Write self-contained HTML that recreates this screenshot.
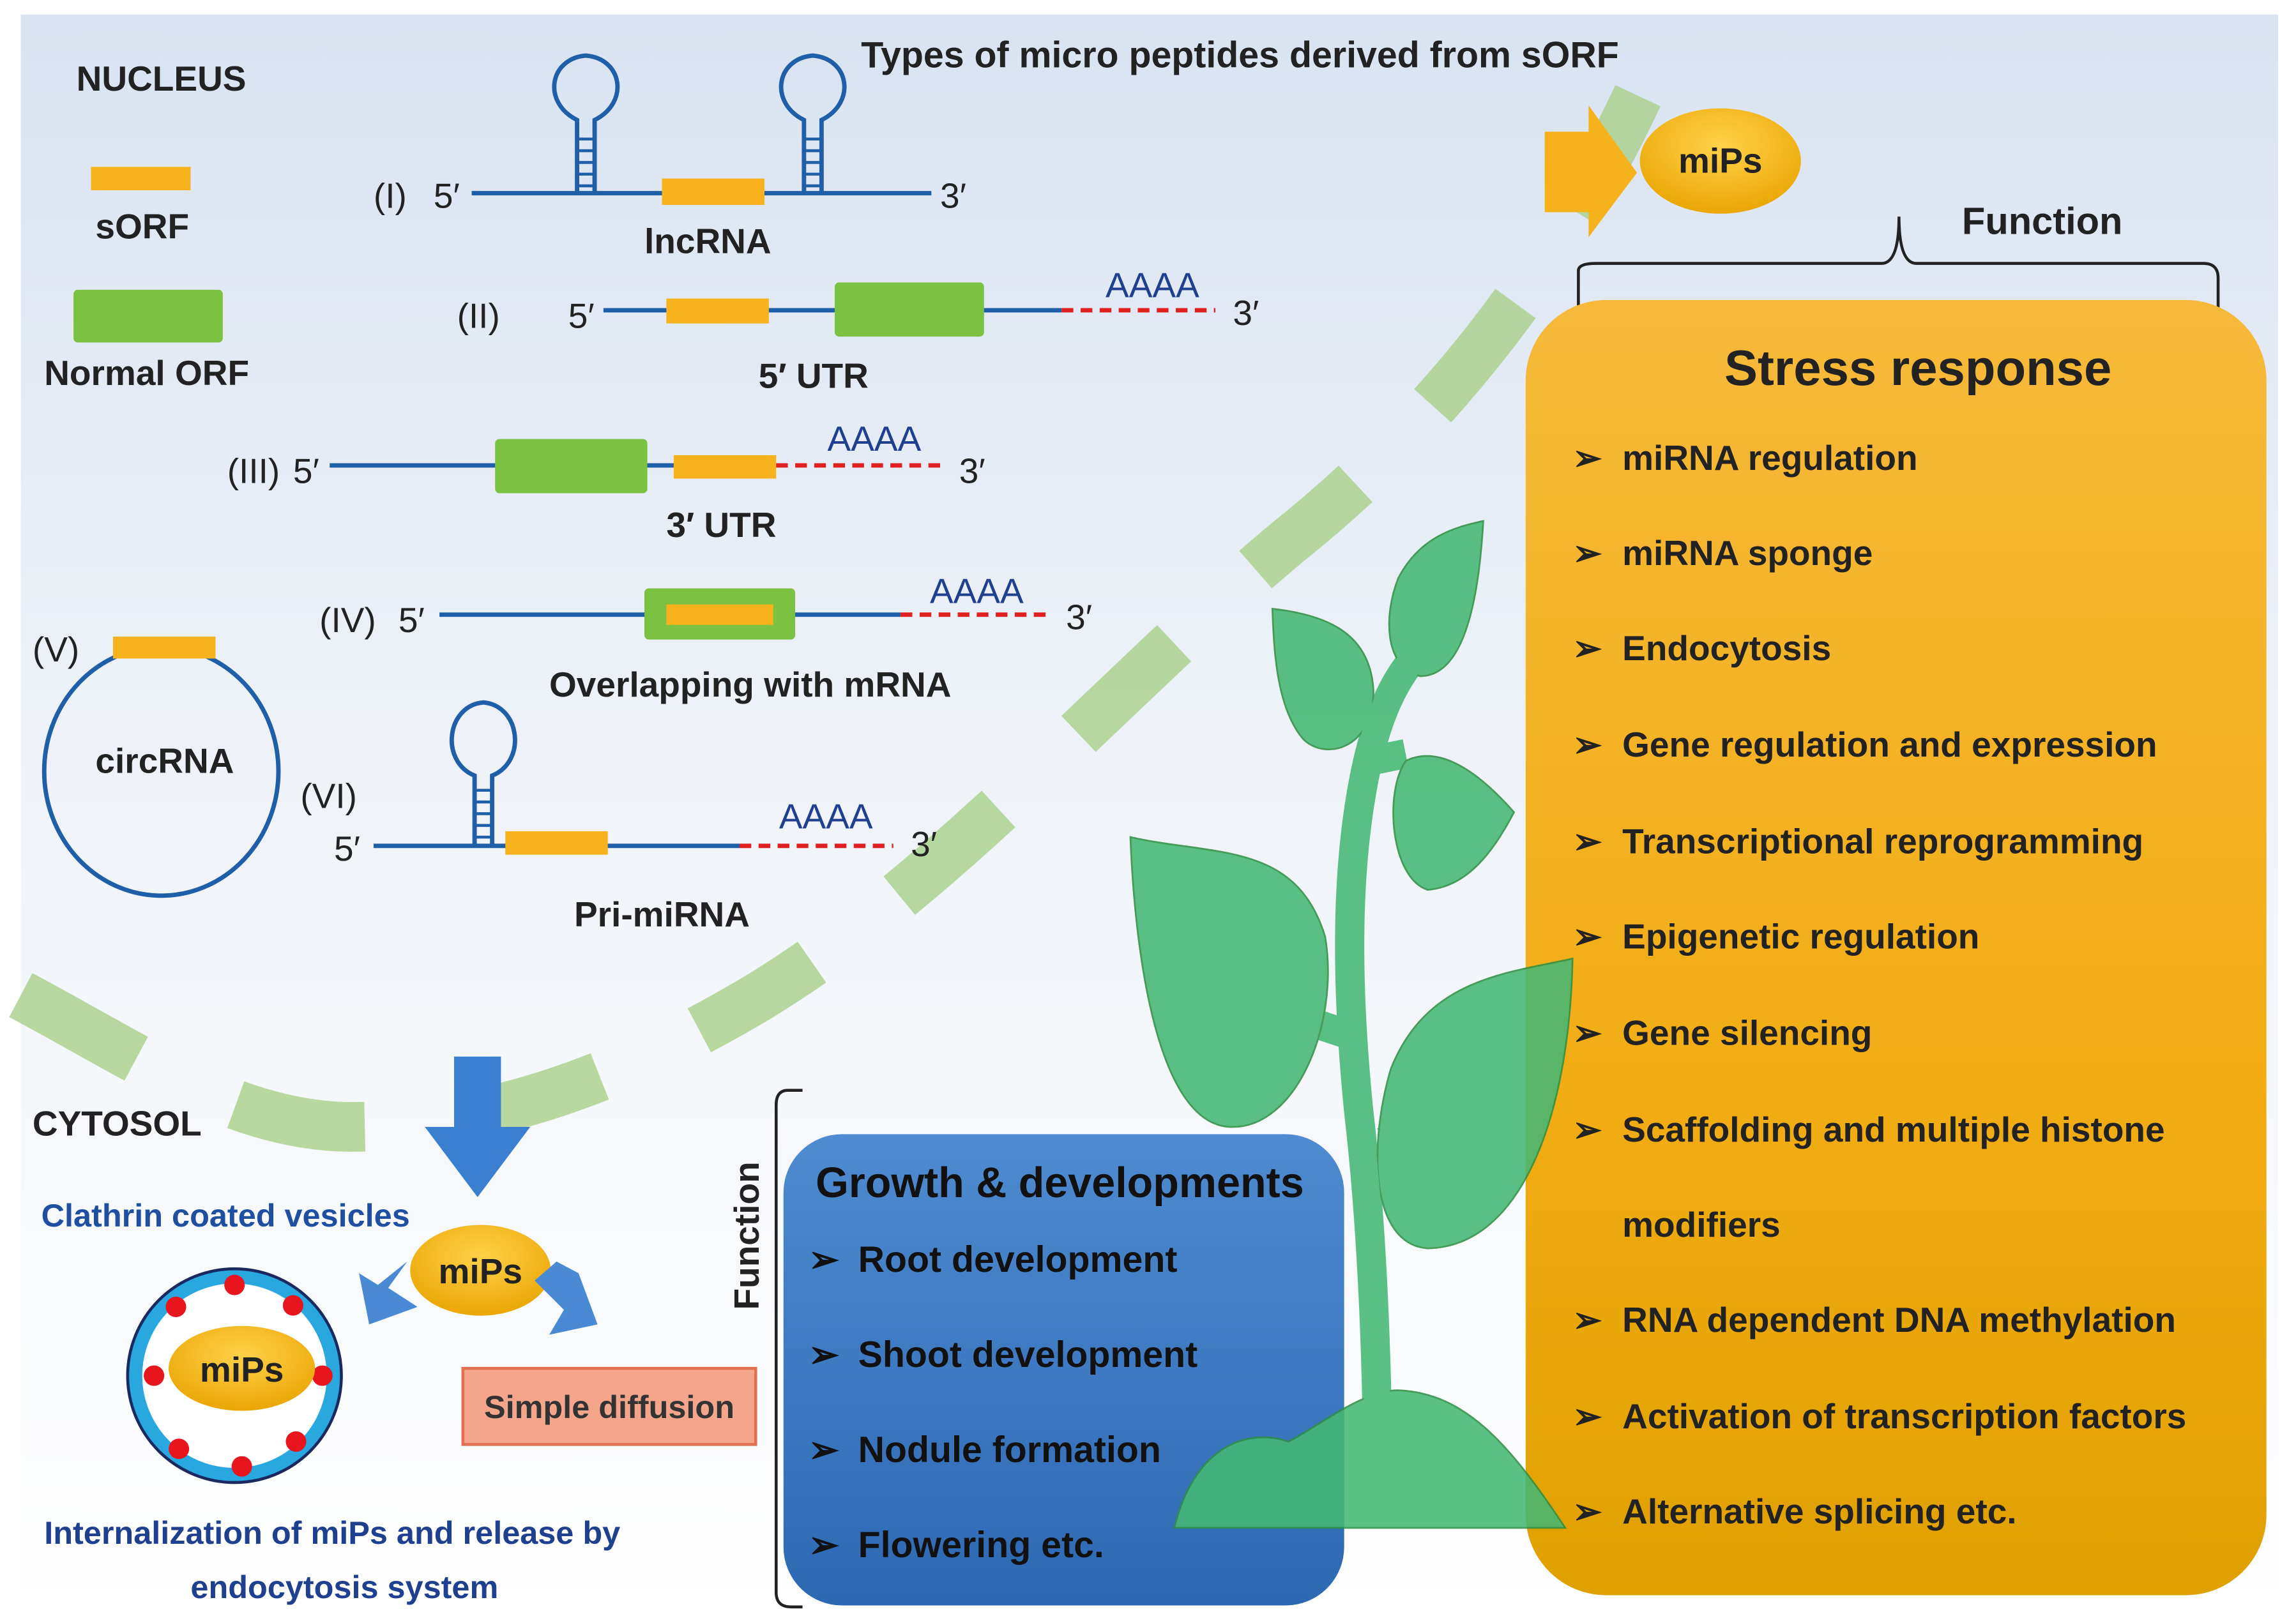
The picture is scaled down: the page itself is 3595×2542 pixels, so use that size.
<!DOCTYPE html>
<html><head><meta charset="utf-8">
<style>
html,body{margin:0;padding:0;background:#fff;}
svg{display:block;}
text{font-family:"Liberation Sans",sans-serif;}
</style></head>
<body>
<svg width="3595" height="2542" viewBox="0 0 1568 1109" xmlns="http://www.w3.org/2000/svg">
<defs>
<linearGradient id="bg" x1="0" y1="0" x2="0" y2="1">
<stop offset="0" stop-color="#d9e3f1"/><stop offset="0.45" stop-color="#eef2f8"/><stop offset="1" stop-color="#ffffff"/>
</linearGradient>
<linearGradient id="og" x1="0" y1="0" x2="0" y2="1">
<stop offset="0" stop-color="#f6b93a"/><stop offset="0.6" stop-color="#f2ad14"/><stop offset="1" stop-color="#e0a000"/>
</linearGradient>
<linearGradient id="bl" x1="0" y1="0" x2="0" y2="1">
<stop offset="0" stop-color="#4f8bd0"/><stop offset="1" stop-color="#2d68b2"/>
</linearGradient>
<radialGradient id="mi" cx="0.5" cy="0.35" r="0.7">
<stop offset="0" stop-color="#ffd24a"/><stop offset="1" stop-color="#e9a300"/>
</radialGradient>
</defs>
<rect x="0" y="0" width="1568" height="1109" fill="#fff"/>
<rect x="14" y="10" width="1542" height="1092" fill="url(#bg)"/>

<path d="M14,680 C90,720 160,770 240,770 C330,770 420,740 520,680 C650,600 760,470 880,370 C980,290 1070,180 1130,40" fill="none" stroke="#a9cf8a" stroke-opacity="0.8" stroke-width="34" stroke-dasharray="90,75"/>

<text x="52" y="62" font-size="24" font-weight="bold" fill="#222">NUCLEUS</text>
<rect x="62" y="114" width="68" height="16" fill="#f7b21e"/>
<text x="65" y="163" font-size="24" font-weight="bold" fill="#222">sORF</text>
<rect x="50" y="198" width="102" height="36" rx="3" fill="#7cc242"/>
<text x="30" y="263" font-size="24" font-weight="bold" fill="#222">Normal ORF</text>

<text x="588" y="46" font-size="25" font-weight="bold" fill="#222">Types of micro peptides derived from sORF</text>

<g stroke="#1f5fa8" stroke-width="3" fill="none">
<line x1="322" y1="132" x2="636" y2="132"/>
<path d="M394,132 V82 C370,70 375,40 400,38 C425,40 430,70 406,82 V132"/>
<path d="M549,132 V82 C525,70 530,40 555,38 C580,40 585,70 561,82 V132"/>
<line x1="412" y1="212" x2="725" y2="212"/>
<line x1="225" y1="318" x2="530" y2="318"/>
<line x1="300" y1="420" x2="615" y2="420"/>
<line x1="255" y1="578" x2="505" y2="578"/>
<path d="M324,578 V530 C300,520 305,482 330,480 C355,482 360,520 336,530 V578"/>
<ellipse cx="110" cy="527" rx="80" ry="85"/>
</g>
<g stroke="#1f5fa8" stroke-width="2">
<line x1="394" y1="95" x2="406" y2="95"/><line x1="394" y1="103" x2="406" y2="103"/><line x1="394" y1="111" x2="406" y2="111"/><line x1="394" y1="119" x2="406" y2="119"/><line x1="394" y1="127" x2="406" y2="127"/>
<line x1="549" y1="95" x2="561" y2="95"/><line x1="549" y1="103" x2="561" y2="103"/><line x1="549" y1="111" x2="561" y2="111"/><line x1="549" y1="119" x2="561" y2="119"/><line x1="549" y1="127" x2="561" y2="127"/>
<line x1="324" y1="540" x2="336" y2="540"/><line x1="324" y1="548" x2="336" y2="548"/><line x1="324" y1="556" x2="336" y2="556"/><line x1="324" y1="564" x2="336" y2="564"/><line x1="324" y1="572" x2="336" y2="572"/>
</g>
<g stroke="#e02020" stroke-width="3" stroke-dasharray="8,5">
<line x1="725" y1="212" x2="830" y2="212"/>
<line x1="530" y1="318" x2="645" y2="318"/>
<line x1="615" y1="420" x2="718" y2="420"/>
<line x1="505" y1="578" x2="610" y2="578"/>
</g>
<g fill="#f7b21e">
<rect x="452" y="122" width="70" height="18"/>
<rect x="455" y="204" width="70" height="17"/>
<rect x="460" y="311" width="70" height="16"/>
<rect x="77" y="435" width="70" height="15"/>
<rect x="345" y="568" width="70" height="16"/>
</g>
<g fill="#7cc242">
<rect x="570" y="193" width="102" height="37" rx="3"/>
<rect x="338" y="300" width="104" height="37" rx="3"/>
<rect x="440" y="402" width="103" height="35" rx="3"/>
</g>
<rect x="455" y="413" width="73" height="14" fill="#f7b21e"/>

<g font-size="24" font-weight="bold" fill="#222">
<text x="440" y="173">lncRNA</text>
<text x="518" y="265">5′ UTR</text>
<text x="455" y="367">3′ UTR</text>
<text x="375" y="476">Overlapping with mRNA</text>
<text x="65" y="528">circRNA</text>
<text x="392" y="633">Pri-miRNA</text>
</g>
<g font-size="24" fill="#222">
<text x="255" y="142">(I)</text><text x="296" y="142">5′</text><text x="642" y="142">3′</text>
<text x="312" y="224">(II)</text><text x="388" y="224">5′</text><text x="842" y="222">3′</text>
<text x="155" y="330">(III)</text><text x="200" y="330">5′</text><text x="655" y="330">3′</text>
<text x="218" y="432">(IV)</text><text x="272" y="432">5′</text><text x="728" y="430">3′</text>
<text x="22" y="452">(V)</text>
<text x="205" y="552">(VI)</text><text x="228" y="588">5′</text><text x="622" y="585">3′</text>
</g>
<g font-size="24" fill="#1f3f8f">
<text x="755" y="203">AAAA</text><text x="565" y="308">AAAA</text><text x="635" y="412">AAAA</text><text x="532" y="566">AAAA</text>
</g>

<path d="M1055,90 H1085 V72 L1118,118 L1085,162 V145 H1055 Z" fill="#f5b21c"/>
<ellipse cx="1175" cy="110" rx="55" ry="36" fill="url(#mi)"/>
<text x="1175" y="118" font-size="24" font-weight="bold" fill="#222" text-anchor="middle">miPs</text>
<text x="1340" y="160" font-size="26" font-weight="bold" fill="#222">Function</text>
<path d="M1078,215 V185 Q1078,180 1090,180 H1285 Q1297,180 1297,148 Q1297,180 1309,180 H1505 Q1515,180 1515,190 V215" fill="none" stroke="#222" stroke-width="2"/>

<rect x="1042" y="205" width="506" height="885" rx="55" fill="url(#og)"/>
<text x="1310" y="263" font-size="34" font-weight="bold" fill="#222" text-anchor="middle">Stress response</text>
<g font-size="24" font-weight="bold" fill="#222">
<text x="1074" y="321">➢</text><text x="1108" y="321">miRNA regulation</text>
<text x="1074" y="386">➢</text><text x="1108" y="386">miRNA sponge</text>
<text x="1074" y="451">➢</text><text x="1108" y="451">Endocytosis</text>
<text x="1074" y="517">➢</text><text x="1108" y="517">Gene regulation and expression</text>
<text x="1074" y="583">➢</text><text x="1108" y="583">Transcriptional reprogramming</text>
<text x="1074" y="648">➢</text><text x="1108" y="648">Epigenetic regulation</text>
<text x="1074" y="714">➢</text><text x="1108" y="714">Gene silencing</text>
<text x="1074" y="780">➢</text><text x="1108" y="780">Scaffolding and multiple histone</text>
<text x="1108" y="845">modifiers</text>
<text x="1074" y="910">➢</text><text x="1108" y="910">RNA dependent DNA methylation</text>
<text x="1074" y="976">➢</text><text x="1108" y="976">Activation of transcription factors</text>
<text x="1074" y="1041">➢</text><text x="1108" y="1041">Alternative splicing etc.</text>
</g>

<text transform="translate(518,895) rotate(-90)" font-size="24" font-weight="bold" fill="#222">Function</text>
<path d="M548,745 H538 Q530,745 530,755 V1088 Q530,1098 540,1098 H548" fill="none" stroke="#222" stroke-width="2"/>
<rect x="535" y="775" width="383" height="322" rx="40" fill="url(#bl)"/>
<text x="557" y="818" font-size="29" font-weight="bold" fill="#111">Growth &amp; developments</text>
<g font-size="25" font-weight="bold" fill="#111">
<text x="552" y="869">➢</text><text x="586" y="869">Root development</text>
<text x="552" y="934">➢</text><text x="586" y="934">Shoot development</text>
<text x="552" y="999">➢</text><text x="586" y="999">Nodule formation</text>
<text x="552" y="1064">➢</text><text x="586" y="1064">Flowering etc.</text>
</g>

<g opacity="0.88">
<g fill="none" stroke="#45b874" stroke-width="20">
<path d="M941,1000 C940,900 935,820 928,760 C920,680 918,600 932,530 C940,490 952,465 967,448"/>
<path d="M900,700 L930,710"/>
<path d="M945,780 L965,770"/>
<path d="M935,520 L960,515"/>
<path d="M918,480 L940,500"/>
</g>
<g fill="#45b874" stroke="#2f8f45" stroke-width="1.2">
<path d="M802,1044 C815,990 850,975 880,985 C900,975 930,950 955,950 C1000,952 1030,985 1069,1044 Z"/>
<path d="M772,572 C830,585 885,575 905,640 C915,700 885,772 840,770 C790,768 775,650 772,572 Z"/>
<path d="M1074,655 C1072,760 1040,852 975,853 C935,850 935,780 950,730 C975,668 1030,665 1074,655 Z"/>
<path d="M1013,356 C1010,410 1000,462 970,462 C945,456 945,420 955,395 C970,366 995,360 1013,356 Z"/>
<path d="M869,416 C905,420 936,432 938,472 C938,512 905,520 890,505 C872,484 870,445 869,416 Z"/>
<path d="M1034,555 C1005,522 980,510 960,520 C945,542 950,600 975,608 C1002,606 1020,582 1034,555 Z"/>
</g>
<path d="M941,990 C940,900 935,820 928,760 C920,680 918,600 932,530 C940,490 952,465 967,448" fill="none" stroke="#45b874" stroke-width="18"/>
</g>

<text x="22" y="776" font-size="24" font-weight="bold" fill="#222">CYTOSOL</text>
<path d="M310,722 H342 V770 H362 L326,818 L290,770 H310 Z" fill="#3a7fd0"/>
<text x="28" y="838" font-size="22" font-weight="bold" fill="#1f4fa0">Clathrin coated vesicles</text>
<ellipse cx="328" cy="868" rx="48" ry="31" fill="url(#mi)"/>
<text x="328" y="877" font-size="24" font-weight="bold" fill="#222" text-anchor="middle">miPs</text>
<path d="M278,862 L265,880 L285,893 L252,905 L245,870 L258,878 Z" fill="#4a8ad4"/>
<path d="M365,875 L380,862 L395,870 L408,905 L375,912 L385,895 Z" fill="#4a8ad4"/>
<rect x="316" y="935" width="200" height="52" fill="#f4a58a" stroke="#e07050" stroke-width="2"/>
<text x="416" y="969" font-size="22" font-weight="bold" fill="#333" text-anchor="middle">Simple diffusion</text>

<circle cx="160" cy="940" r="68" fill="#fff" stroke="#29a7df" stroke-width="10"/>
<circle cx="160" cy="940" r="73" fill="none" stroke="#1a2a60" stroke-width="2"/>
<g fill="#e8141e">
<circle cx="160" cy="878" r="7"/><circle cx="200" cy="892" r="7"/><circle cx="220" cy="940" r="7"/><circle cx="202" cy="985" r="7"/>
<circle cx="165" cy="1002" r="7"/><circle cx="122" cy="990" r="7"/><circle cx="105" cy="940" r="7"/><circle cx="120" cy="893" r="7"/>
</g>
<ellipse cx="165" cy="935" rx="50" ry="29" fill="url(#mi)"/>
<text x="165" y="944" font-size="24" font-weight="bold" fill="#222" text-anchor="middle">miPs</text>
<text x="30" y="1055" font-size="22" font-weight="bold" fill="#1f3f8f">Internalization of miPs and release by</text>
<text x="130" y="1092" font-size="22" font-weight="bold" fill="#1f3f8f">endocytosis system</text>
</svg>
</body></html>
